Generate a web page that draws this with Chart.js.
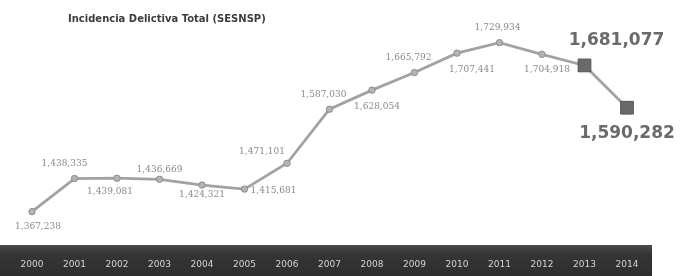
<!DOCTYPE html>
<html>
<head>
<meta charset="utf-8">
<script src="https://cdn.jsdelivr.net/npm/chart.js@4"></script>
<style>
    body { margin: 0; background: #fff; }
    #wrap { width: 684px; height: 276px; }
</style>
</head>
<body>
<div id="wrap"><canvas id="graphique"></canvas></div>
<script>
const annees = ["2000", "2001", "2002", "2003", "2004", "2005", "2006", "2007",
    "2008", "2009", "2010", "2011", "2012", "2013", "2014"];
const incidencia = [1367238, 1438335, 1439081, 1436669, 1424321, 1415681, 1471101, 1587030,
    1628054, 1665792, 1707441, 1729934, 1704918, 1681077, 1590282];
const titre = "Incidencia Delictiva Total (SESNSP)";

// decalage des etiquettes (dx, dy) par point
const decalages = [[6, 15], [-10, -15], [-7, 13], [0, -10], [0, 10], [29, 2], [-25, -12],
    [-6, -15], [5, 17], [-6, -15], [15, 17], [-2, -15], [5, 15], [32, -25], [0, 26]];

function fmt(v) {
    return v.toLocaleString("en-US");
}

const fondAxe = {
    id: "fondAxe",
    beforeDraw(chart) {
        const ctx = chart.ctx;
        const x = chart.scales.x;
        const top = chart.chartArea.bottom + 2;
        const grad = ctx.createLinearGradient(0, top, 0, chart.height);
        grad.addColorStop(0, "#4a4a4a");
        grad.addColorStop(0.3, "#353535");
        grad.addColorStop(1, "#2e2e2e");
        ctx.save();
        ctx.fillStyle = grad;
        ctx.fillRect(0, top, x.right + 25, chart.height - top);
        ctx.restore();
    }
};

const etiquettes = {
    id: "etiquettes",
    afterDraw(chart) {
        const ctx = chart.ctx;
        const pts = chart.getDatasetMeta(0).data;
        ctx.save();
        ctx.textAlign = "center";
        ctx.textBaseline = "middle";
        pts.forEach(function(p, i) {
            const d = decalages[i];
            if (i >= pts.length - 2) {
                ctx.font = "bold 17px 'DejaVu Sans'";
                ctx.fillStyle = "#6a6a6a";
            } else {
                ctx.font = "9px 'DejaVu Serif'";
                ctx.fillStyle = "#8a8a8a";
            }
            ctx.fillText(fmt(incidencia[i]), p.x + d[0], p.y + d[1]);
        });
        ctx.font = "bold 10px 'DejaVu Sans'";
        ctx.fillStyle = "#3c3c3c";
        ctx.textAlign = "left";
        ctx.fillText(titre, 68, 19);
        ctx.restore();
    }
};

const n = incidencia.length;
const styles = incidencia.map(function(v, i) { return i >= n - 2 ? "rect" : "circle"; });
const rayons = incidencia.map(function(v, i) { return i >= n - 2 ? 9 : 3.2; });
const fonds = incidencia.map(function(v, i) { return i >= n - 2 ? "#6a6a6a" : "#b4b4b4"; });
const bords = incidencia.map(function(v, i) { return i >= n - 2 ? "#555" : "#8c8c8c"; });

new Chart(document.getElementById("graphique"), {
    type: "line",
    data: {
        labels: annees,
        datasets: [{
            data: incidencia,
            borderColor: "#a2a2a2",
            borderWidth: 2.8,
            pointStyle: styles,
            pointRadius: rayons,
            pointBackgroundColor: fonds,
            pointBorderColor: bords,
            pointBorderWidth: 1,
            tension: 0
        }]
    },
    options: {
        responsive: true,
        maintainAspectRatio: false,
        animation: false,
        layout: { padding: { left: 32, right: 57, top: 0, bottom: 0 } },
        plugins: {
            legend: { display: false },
            tooltip: { enabled: false }
        },
        scales: {
            x: {
                offset: false,
                grid: { display: false, drawTicks: false },
                border: { display: false },
                ticks: {
                    color: "#d4d4d4",
                    font: { family: "DejaVu Sans", size: 9 },
                    padding: 16,
                    maxRotation: 0,
                    autoSkip: false
                },
                afterFit(scale) { scale.height = 33; }
            },
            y: {
                display: false,
                min: 1300000,
                max: 1800000
            }
        }
    },
    plugins: [fondAxe, etiquettes]
});
</script>
</body>
</html>
